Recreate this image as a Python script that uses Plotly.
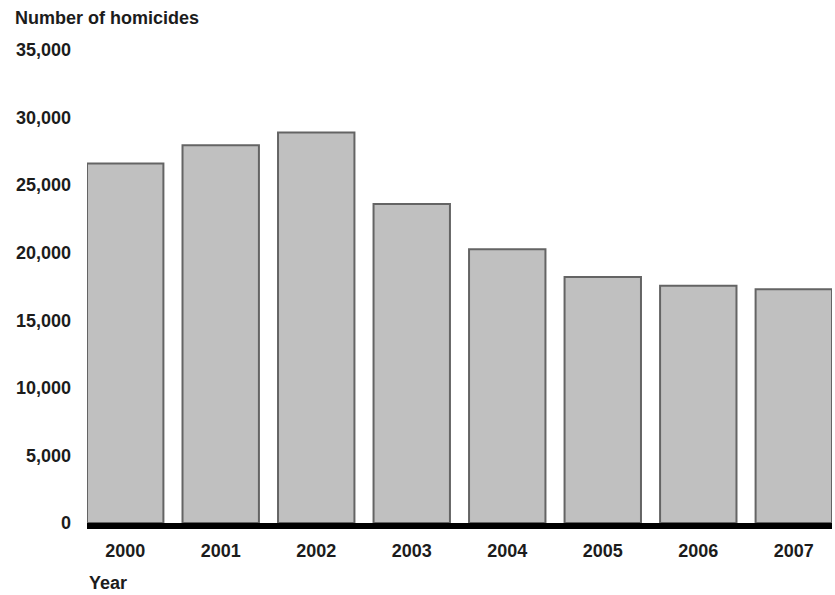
import plotly.graph_objects as go

years = ["2000", "2001", "2002", "2003", "2004", "2005", "2006", "2007"]
homicides = [26600, 27950, 28900, 23600, 20250, 18200, 17550, 17300]
y_ticks = [0, 5000, 10000, 15000, 20000, 25000, 30000, 35000]

FONT = "Liberation Sans, Arial, Helvetica, sans-serif"
TXT = "#1c1c1c"

fig = go.Figure(
    go.Bar(
        x=years,
        y=homicides,
        marker=dict(color="#c0c0c0", line=dict(color="#646464", width=2)),
        width=0.8,
        hoverinfo="skip",
    )
)

W, H = 835, 595
L, R, T, B = 87, 3, 50, 72
PW, PH = W - L - R, H - T - B

fig.update_layout(
    width=W,
    height=H,
    margin=dict(l=L, r=R, t=T, b=B),
    paper_bgcolor="white",
    plot_bgcolor="white",
    showlegend=False,
    font=dict(family=FONT, size=18, color=TXT, weight="bold"),
    xaxis=dict(
        range=[-0.4, 7.4],
        showgrid=False,
        showline=True,
        linecolor="black",
        linewidth=6,
        ticks="",
        ticklabelstandoff=6,
        tickfont=dict(family=FONT, size=18, weight="bold", color=TXT),
        fixedrange=True,
    ),
    yaxis=dict(
        range=[0, 35000],
        tickvals=y_ticks,
        tickformat=",",
        showgrid=False,
        zeroline=False,
        showline=False,
        ticks="",
        ticklabelstandoff=15,
        tickfont=dict(family=FONT, size=18, weight="bold", color=TXT),
        fixedrange=True,
    ),
    annotations=[
        dict(
            text="Number of homicides",
            xref="paper", yref="paper",
            x=(13 - L) / PW, y=(H - B - 18) / PH,
            xanchor="left", yanchor="middle",
            showarrow=False,
            font=dict(family=FONT, size=18, weight="bold", color=TXT),
        ),
        dict(
            text="Year",
            xref="paper", yref="paper",
            x=0, y=(H - B - 583) / PH,
            xanchor="left", yanchor="middle",
            showarrow=False,
            font=dict(family=FONT, size=18, weight="bold", color=TXT),
        ),
    ],
)

fig.write_html(
    "out.html",
    config={"displayModeBar": False},
    post_script="document.body.style.margin='0';document.body.style.overflow='hidden';",
)
